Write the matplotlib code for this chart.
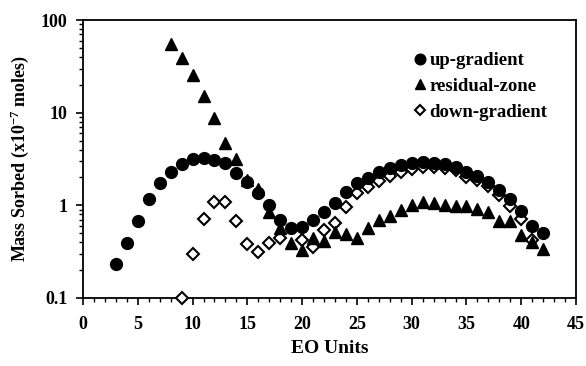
import numpy as np
import matplotlib.pyplot as plt
from matplotlib.ticker import MultipleLocator, LogLocator, NullFormatter

# EO unit positions and sorbed mass (x10^-7 moles)
up_x = list(range(3, 43))
up_y = [0.233, 0.395, 0.68, 1.16, 1.73, 2.30, 2.79, 3.16, 3.24, 3.08,
        2.84, 2.25, 1.80, 1.35, 1.0, 0.69, 0.57, 0.58, 0.69, 0.85,
        1.07, 1.38, 1.73, 1.99, 2.27, 2.55, 2.72, 2.84, 2.95, 2.90,
        2.79, 2.57, 2.30, 2.07, 1.77, 1.46, 1.17, 0.87, 0.60, 0.50]

res_x = list(range(8, 43))
res_y = [55, 39, 25.5, 15.2, 8.7, 4.74, 3.16, 1.9, 1.49, 0.85,
         0.565, 0.395, 0.33, 0.44, 0.415, 0.52, 0.49, 0.44, 0.57, 0.69,
         0.77, 0.89, 1.0, 1.08, 1.05, 1.0, 0.99, 0.98, 0.91, 0.85,
         0.68, 0.67, 0.48, 0.40, 0.34]

down_x = [9, 10, 11, 12, 13, 14, 15, 16, 17, 18, 20, 21, 22, 23, 24, 25, 26,
          27, 28, 29, 30, 31, 32, 33, 34, 35, 36, 37, 38, 39, 40, 41]
down_y = [0.1, 0.30, 0.71, 1.08, 1.08, 0.67, 0.38, 0.315, 0.395, 0.44, 0.42,
          0.357, 0.54, 0.65, 0.97, 1.37, 1.59, 1.83, 2.08, 2.27, 2.44, 2.57,
          2.57, 2.5, 2.40, 2.0, 1.9, 1.6, 1.3, 0.98, 0.71, 0.42]

yticks = [0.1, 1, 10, 100]
ytick_labels = ['0.1', '1', '10', '100']

plt.rcParams['font.family'] = 'Liberation Serif'
plt.rcParams['font.weight'] = 'bold'
plt.rcParams['mathtext.fontset'] = 'custom'
plt.rcParams['mathtext.rm'] = 'Liberation Serif:bold'
plt.rcParams['mathtext.default'] = 'rm'

fig = plt.figure(figsize=(5.86, 3.66), dpi=100)
ax = fig.add_axes([0.1416, 0.186, 0.8414, 0.759])

ax.plot(down_x, down_y, 'D', ms=6, mfc='white', mec='black', mew=1.5,
        label='down-gradient', zorder=3, clip_on=False)
ax.plot(up_x, up_y, 'o', ms=8.5, color='black', label='up-gradient', zorder=4)
ax.plot(res_x, res_y, '^', ms=8.5, color='black', label='residual-zone', zorder=5)

ax.set_yscale('log')
ax.set_xlim(0, 45)
ax.set_ylim(0.1, 100)
ax.xaxis.set_major_locator(MultipleLocator(5))
ax.xaxis.set_minor_locator(MultipleLocator(1))
ax.yaxis.set_minor_locator(LogLocator(base=10, subs=np.arange(2, 10), numticks=10))
ax.yaxis.set_minor_formatter(NullFormatter())
ax.set_yticks(yticks)
ax.set_yticklabels(ytick_labels)

ax.tick_params(which='major', length=5, width=1.2, labelsize=13)
ax.tick_params(axis='x', which='major', pad=8)
ax.tick_params(axis='y', which='major', pad=6)
ax.tick_params(which='minor', length=3, width=1)
for s in ax.spines.values():
    s.set_linewidth(1.3)

ax.set_xlabel('EO Units', fontsize=14, fontweight='bold', labelpad=5)
ax.set_ylabel('Mass Sorbed (x10$^{-7}$ moles)', fontsize=13, fontweight='bold', labelpad=7)

handles, labels = ax.get_legend_handles_labels()
order = [1, 2, 0]
ax.legend([handles[i] for i in order], [labels[i] for i in order],
          loc='upper left', bbox_to_anchor=(0.631, 0.945), frameon=False,
          fontsize=13.5, handletextpad=0.0, handlelength=1.0, labelspacing=0.45,
          markerscale=0.9)

fig.savefig('out.png', dpi=100)
